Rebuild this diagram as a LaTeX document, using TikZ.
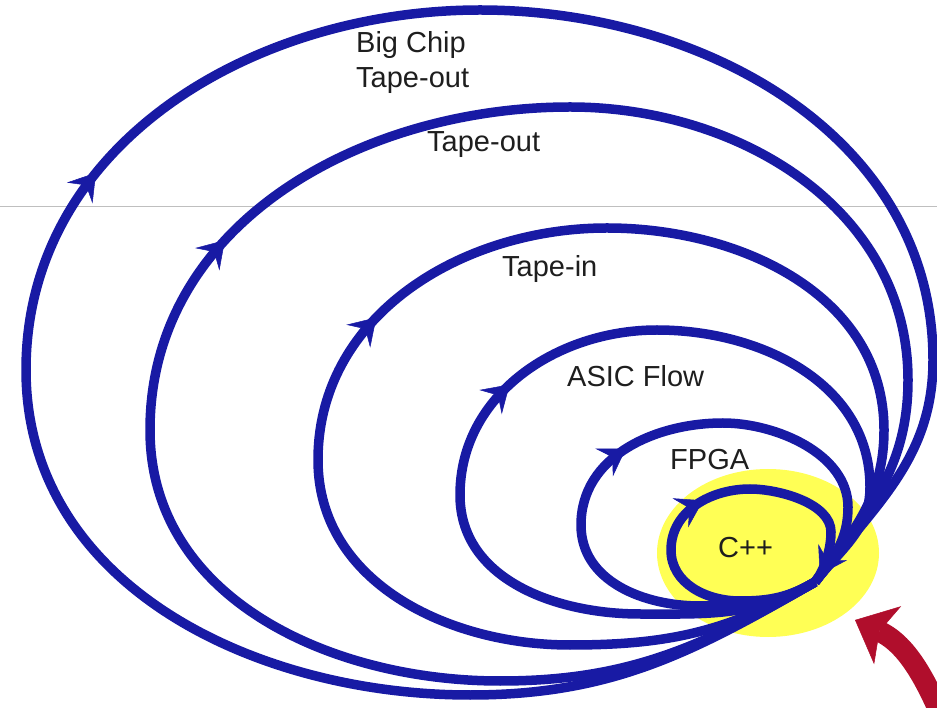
\documentclass[tikz,border=0pt]{standalone}
\usepackage{fontspec}
\setmainfont{Liberation Sans}
\usetikzlibrary{arrows.meta,decorations.markings}
\definecolor{loopblue}{RGB}{24,26,164}
\definecolor{cppyellow}{RGB}{255,255,85}
\definecolor{hintred}{RGB}{176,14,44}
\definecolor{labelgray}{RGB}{30,30,30}

\begin{document}
\begin{tikzpicture}[x=1pt, y=1pt,
	flowloop/.style={draw=loopblue, line width=9.5pt},
	flowhead/.style={postaction={decorate, decoration={markings,
		mark=at position #1 with {\arrow{Stealth[length=26pt, width=33pt, inset=10pt, line width=0.5pt]}}}}},
	looplabel/.style={text=labelgray, inner sep=0pt, anchor=base west, font=\fontsize{29}{35}\selectfont}]
	\useasboundingbox (0,0) rectangle (937,707);
	\clip (0,0) rectangle (937,707);
	\draw[gray!50, line width=1pt] (0,500) -- (937,500);
	\fill[cppyellow] (768,154) ellipse (111 and 84);
	\coordinate (join) at (815,125);
	% loops, outermost first
	\draw[flowloop, flowhead=0.474] (join) to[out=210,in=0] (470,12) to[out=180,in=270] (26,337)
		to[out=90,in=180] (480,697) to[out=0,in=90] (933,347) to[out=270,in=52] (join);
	\draw[flowloop, flowhead=0.484] (join) to[out=210,in=0] (500,26) to[out=180,in=270] (150,277)
		to[out=90,in=180] (570,600) to[out=0,in=90] (908,327) to[out=270,in=52] (join);
	\draw[flowloop, flowhead=0.486] (join) to[out=210,in=0] (570,62) to[out=180,in=270] (318,247)
		to[out=90,in=180] (607,479) to[out=0,in=90] (884,277) to[out=270,in=52] (join);
	\draw[flowloop, flowhead=0.49] (join) to[out=210,in=0] (640,93) to[out=180,in=270] (460,212)
		to[out=90,in=180] (657,377) to[out=0,in=90] (870,220) to[out=270,in=52] (join);
	\draw[flowloop, flowhead=0.515] (join) to[out=210,in=0] (700,101) to[out=180,in=270] (581,182)
		to[out=90,in=180] (723,284) to[out=0,in=90,looseness=0.9] (848,200) to[out=270,in=52] (join);
	\draw[flowloop, flowhead=0.54, flowhead=0.98] (join) to[out=210,in=0] (740,106) to[out=180,in=270] (671,157)
		to[out=90,in=180] (750,218) to[out=0,in=90,looseness=0.8] (831,175) to[out=270,in=52,looseness=0.8] (join);
	% pointer into the inner loop
	\coordinate (redfoot) at (950,-30);
	\coordinate (redtip) at (855,87);
	\draw[hintred, line width=21pt, -{Stealth[length=36pt, width=64pt, inset=9pt, line width=0.5pt]}]
		(redfoot) to[out=112,in=-25] (redtip);
	\node[looplabel, align=left, anchor=north west] (bigchip) at (356,676) {Big Chip\\Tape-out};
	\node[looplabel] (tapeout) at (427,555) {Tape-out};
	\node[looplabel] (tapein) at (502,430) {Tape-in};
	\node[looplabel] (asic) at (567,320) {ASIC Flow};
	\node[looplabel] (fpga) at (670,237) {FPGA};
	\node[looplabel] (cpp) at (718,149) {C++};
\end{tikzpicture}
\end{document}
